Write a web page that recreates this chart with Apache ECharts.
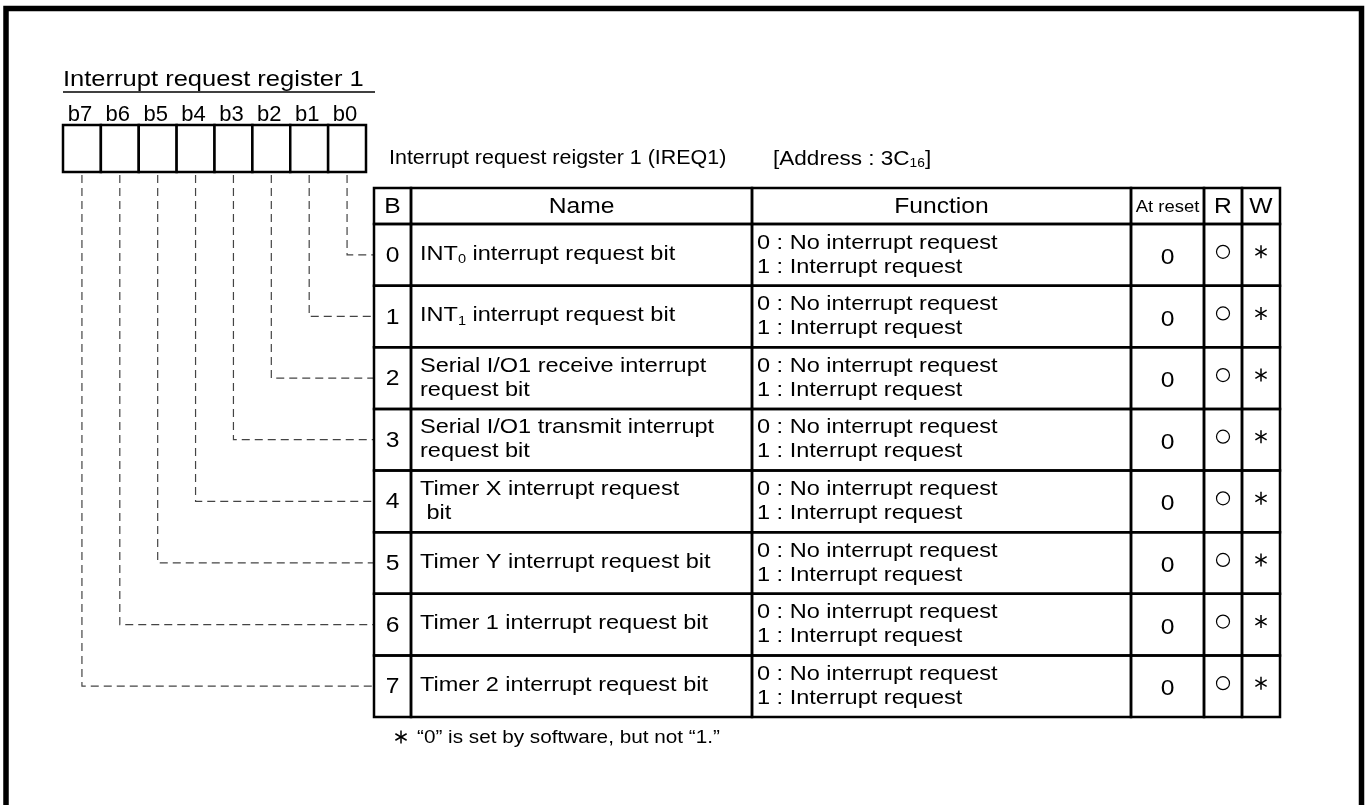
<!DOCTYPE html>
<html><head><meta charset="utf-8">
<script src="https://cdn.jsdelivr.net/npm/echarts@6/dist/echarts.min.js"></script>
<style>html,body{margin:0;padding:0;background:#fff}#c{width:1367px;height:805px}</style>
</head><body><div id="c"></div>
<script>
// ---------------- data ----------------
const registerTitle = 'Interrupt request register 1';
const bitLabels = ['b7', 'b6', 'b5', 'b4', 'b3', 'b2', 'b1', 'b0'];
const rowBits = ['0', '1', '2', '3', '4', '5', '6', '7'];
const bitNames = [
  ['INT{sub|0} interrupt request bit'],
  ['INT{sub|1} interrupt request bit'],
  ['Serial I/O1 receive interrupt', 'request bit'],
  ['Serial I/O1 transmit interrupt', 'request bit'],
  ['Timer X interrupt request', ' bit'],
  ['Timer Y interrupt request bit'],
  ['Timer 1 interrupt request bit'],
  ['Timer 2 interrupt request bit']
];
const functionLine0 = ['0 : No interrupt request', '0 : No interrupt request', '0 : No interrupt request', '0 : No interrupt request',
  '0 : No interrupt request', '0 : No interrupt request', '0 : No interrupt request', '0 : No interrupt request'];
const functionLine1 = ['1 : Interrupt request', '1 : Interrupt request', '1 : Interrupt request', '1 : Interrupt request',
  '1 : Interrupt request', '1 : Interrupt request', '1 : Interrupt request', '1 : Interrupt request'];
const resetValues = ['0', '0', '0', '0', '0', '0', '0', '0'];
const readMarks = ['○', '○', '○', '○', '○', '○', '○', '○'];
const writeMarks = ['✱', '✱', '✱', '✱', '✱', '✱', '✱', '✱'];
const headerLabels = ['B', 'Name', 'Function', 'At reset', 'R', 'W'];
const captionName = 'Interrupt request reigster 1 (IREQ1)';
const captionAddress = '[Address : 3C{sub|16}]';
const footnoteText = '“0” is set by software, but not “1.”';

// ---------------- layout (positions / styles only) ----------------
const FF = '"Liberation Sans", Arial, Helvetica, sans-serif';
const SX = 1.12;
const L = {
  regLeft: 63, regTop: 125, regW: 303, regH: 47,
  tblLeft: 374, tblHeadTop: 188, tblTop: 224, tblW: 906, tblH: 493,
  colOffsets: [0, 37, 378, 757, 830, 868, 906],
  lw: 2.5
};

function T(x, y, text, size, align, sx, extra) {
  return {
    type: 'text', x: x, y: y, scaleX: sx, scaleY: 1, originX: 0, originY: 0,
    style: Object.assign({
      text: text, font: size + 'px ' + FF, fill: '#000',
      align: align, verticalAlign: 'middle', textAlign: align, textVerticalAlign: 'middle'
    }, extra || {})
  };
}
function subRich(size) {
  return { sub: { fontSize: size, fontFamily: FF, fill: '#000', verticalAlign: 'bottom' } };
}
function asterisk(cx, cy, r, lw) {
  return [90, 30, -30].map(function (a) {
    const t = a * Math.PI / 180, dx = r * Math.cos(t), dy = r * Math.sin(t);
    return { type: 'line', shape: { x1: cx - dx, y1: cy - dy, x2: cx + dx, y2: cy + dy }, style: { stroke: '#000', lineWidth: lw } };
  });
}

// ---------------- static graphic (frame, titles, header, footnote) ----------------
const graphics = [];
graphics.push({ type: 'rect', shape: { x: 6, y: 8.5, width: 1355.5, height: 900 }, style: { fill: 'none', stroke: '#000', lineWidth: 5.5 } });
graphics.push(T(L.regLeft, 80, registerTitle, 22, 'left', 1.16));
graphics.push({ type: 'line', shape: { x1: L.regLeft, y1: 92, x2: 375, y2: 92 }, style: { stroke: '#000', lineWidth: 1.5 } });
graphics.push(T(389, 159, captionName, 19.5, 'left', 1.1));
graphics.push(T(773, 159, captionAddress, 20.5, 'left', 1.1, { rich: subRich(12.5), lineHeight: 22 }));
for (let k = 0; k < headerLabels.length; k++) {
  const x0 = L.tblLeft + L.colOffsets[k], x1 = L.tblLeft + L.colOffsets[k + 1];
  graphics.push({ type: 'rect', shape: { x: x0, y: L.tblHeadTop, width: x1 - x0, height: L.tblTop - L.tblHeadTop }, style: { fill: 'none', stroke: '#000', lineWidth: L.lw } });
  const small = headerLabels[k] === 'At reset';
  graphics.push(T((x0 + x1) / 2, 207, headerLabels[k], small ? 16.5 : 22, 'center', SX));
}
asterisk(401, 737, 6.5, 1.5).forEach(function (e) { graphics.push(e); });
graphics.push(T(417, 738, footnoteText, 18.5, 'left', SX));

// ---------------- chart ----------------
const chart = echarts.init(document.getElementById('c'), null, { renderer: 'canvas' });
const baseOption = {
  animation: false,
  backgroundColor: '#fff',
  grid: [
    { left: L.regLeft, top: L.regTop, width: L.regW, height: L.regH },
    { left: L.tblLeft, top: L.tblTop, width: L.tblW, height: L.tblH }
  ],
  xAxis: [
    { gridIndex: 0, type: 'category', data: bitLabels, position: 'top', boundaryGap: true,
      axisLine: { show: false }, axisTick: { show: false }, splitLine: { show: false },
      axisLabel: { fontSize: 22, fontFamily: FF, color: '#000', margin: 10, verticalAlign: 'middle', padding: [0, 4, 0, 0] } },
    { gridIndex: 1, type: 'value', min: 0, max: L.colOffsets[L.colOffsets.length - 1], show: false }
  ],
  yAxis: [
    { gridIndex: 0, type: 'value', min: 0, max: 1, show: false },
    { gridIndex: 1, type: 'category', data: rowBits, inverse: true, show: false }
  ],
  graphic: { elements: graphics },
  series: [
    {
      id: 'boxes', type: 'custom', xAxisIndex: 0, yAxisIndex: 0, clip: false,
      data: bitLabels.map(function (b) { return [b, 1]; }),
      renderItem: function (params, api) {
        const top = api.coord([api.value(0), 1]);
        const bot = api.coord([api.value(0), 0]);
        const w = api.size([1, 0])[0];
        return { type: 'rect', shape: { x: top[0] - w / 2, y: top[1], width: w, height: bot[1] - top[1] },
          style: { fill: '#fff', stroke: '#000', lineWidth: L.lw } };
      }
    },
    {
      id: 'rows', type: 'custom', xAxisIndex: 1, yAxisIndex: 1, clip: false,
      data: rowBits.map(function (b) { return [0, b]; }),
      renderItem: function (params, api) {
        const i = params.dataIndex;
        const cat = api.value(1);
        const yc = api.coord([0, cat])[1];
        const h = api.size([0, 1])[1];
        const top = yc - h / 2;
        const xs = L.colOffsets.map(function (o) { return api.coord([o, cat])[0]; });
        const ch = [];
        for (let k = 0; k < xs.length - 1; k++) {
          ch.push({ type: 'rect', shape: { x: xs[k], y: top, width: xs[k + 1] - xs[k], height: h },
            style: { fill: 'none', stroke: '#000', lineWidth: L.lw } });
        }
        ch.push(T((xs[0] + xs[1]) / 2, yc + 1, rowBits[i], 22, 'center', SX));
        const nm = bitNames[i];
        if (nm.length === 1) {
          ch.push(T(xs[1] + 9, yc - 1, nm[0], 21, 'left', SX, { rich: subRich(13), lineHeight: 24 }));
        } else {
          ch.push(T(xs[1] + 9, yc - 12, nm[0], 21, 'left', SX));
          ch.push(T(xs[1] + 9, yc + 12, nm[1], 21, 'left', SX));
        }
        ch.push(T(xs[2] + 5, yc - 12, functionLine0[i], 21, 'left', SX));
        ch.push(T(xs[2] + 5, yc + 12, functionLine1[i], 21, 'left', SX));
        ch.push(T((xs[3] + xs[4]) / 2, yc + 3, resetValues[i], 22, 'center', SX));
        if (readMarks[i] === '○') {
          ch.push({ type: 'circle', shape: { cx: (xs[4] + xs[5]) / 2, cy: yc - 3, r: 6.5 }, style: { fill: 'none', stroke: '#000', lineWidth: 1.2 } });
        }
        if (writeMarks[i] === '✱') {
          asterisk((xs[5] + xs[6]) / 2, yc - 3, 6.5, 1.5).forEach(function (e) { ch.push(e); });
        }
        return { type: 'group', children: ch };
      }
    }
  ]
};
chart.setOption(baseOption);

// connectors: positions obtained from the library's scales
const boxCenters = bitLabels.map(function (b) { return chart.convertToPixel({ xAxisIndex: 0 }, b); });
const boxBottom = chart.convertToPixel({ yAxisIndex: 0 }, 0);
chart.setOption({
  series: [{
    id: 'conn', type: 'custom', xAxisIndex: 1, yAxisIndex: 1, clip: false, z: 1,
    data: rowBits.map(function (b) { return [0, b]; }),
    renderItem: function (params, api) {
      const i = params.dataIndex;
      const p = api.coord([0, api.value(1)]);
      const bx = boxCenters[bitLabels.indexOf('b' + rowBits[i])];
      return { type: 'polyline', shape: { points: [[bx, boxBottom + 3], [bx, p[1]], [p[0], p[1]]] },
        style: { fill: 'none', stroke: '#444', lineWidth: 1.2, lineDash: [8, 5] } };
    }
  }]
});
</script>
</body></html>
